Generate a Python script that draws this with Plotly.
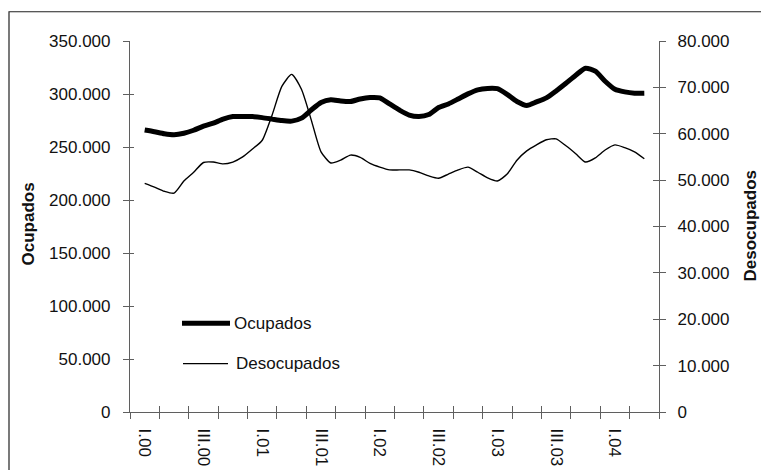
import plotly.graph_objects as go

# Quarter labels (every second quarter is labelled on the axis)
quarters = ["I.00", "II.00", "III.00", "IV.00", "I.01", "II.01", "III.01", "IV.01",
            "I.02", "II.02", "III.02", "IV.02", "I.03", "II.03", "III.03", "IV.03",
            "I.04", "II.04"]
tick_labels = ["I.00", "III.00", "I.01", "III.01", "I.02", "III.02", "I.03", "III.03", "I.04"]

# Monthly (moving-quarter) values, first point = I.00, last point = II.04
ocupados = [266000, 264400, 262500, 261600, 263000, 265800, 269600, 272500, 276300, 278700,
            278700, 278700, 277700, 276300, 274900, 274400, 277200, 284900, 292000, 294600,
            293400, 292900, 295300, 296700, 296300, 290600, 284900, 280100, 278700, 280600,
            287200, 290600, 295300, 300100, 303900, 305300, 305000, 299600, 292900, 289100,
            292500, 296300, 302900, 310100, 317700, 324300, 321500, 312000, 304400, 302000,
            300800, 300800]
desocupados = [49300, 48500, 47600, 47200, 49800, 51700, 53800, 53900, 53500, 53900,
               55000, 56700, 58600, 64000, 70200, 72800, 69600, 63000, 56100, 53700,
               54300, 55400, 54900, 53600, 52800, 52200, 52200, 52200, 51700, 50900,
               50400, 51300, 52200, 52800, 51700, 50500, 49800, 51300, 54300, 56300,
               57600, 58700, 58900, 57400, 55700, 53900, 54800, 56500, 57600, 57000,
               56100, 54600]

n_q = len(quarters)
x_month = [i / 3 for i in range(len(ocupados))]
label_pos = [quarters.index(t) for t in tick_labels]
boundaries = [i - 0.5 for i in range(n_q + 1)]
xr = [-0.5, n_q - 0.5]
yr_left = [0, 350000]
yr_right = [0, 80000]

FONT = "Liberation Sans, Arial, sans-serif"
AX = "#5f5f5f"
TXT = "#111111"

# target geometry (pixels of the 761x470 picture)
W, H = 761, 470
L, T, PW, PH = 130, 40, 529, 368
# the browser viewport is a little taller than the picture; draw at that height
HV = 478
SY = HV / H


def px(x):
    return (x - L) / PW


def py(y):
    return (T + PH - y) / PH


fig = go.Figure()
fig.add_trace(go.Scatter(x=x_month, y=ocupados, mode="lines", name="Ocupados",
                         line=dict(color="#000000", width=5, shape="spline", smoothing=0.6),
                         xaxis="x", yaxis="y"))
fig.add_trace(go.Scatter(x=x_month, y=desocupados, mode="lines", name="Desocupados",
                         line=dict(color="#000000", width=1.4, shape="spline", smoothing=0.6),
                         xaxis="x", yaxis="y2"))
# helper traces so that the tick-only overlay axes are drawn
fig.add_trace(go.Scatter(x=[None], y=[None], xaxis="x2", yaxis="y3", showlegend=False, hoverinfo="skip"))
fig.add_trace(go.Scatter(x=[None], y=[None], xaxis="x3", yaxis="y4", showlegend=False, hoverinfo="skip"))

fig.update_layout(
    width=W, height=HV,
    margin=dict(l=L, r=W - L - PW, t=T * SY, b=(H - T - PH) * SY),
    paper_bgcolor="white", plot_bgcolor="white",
    showlegend=False,
    separators=",.",
    font=dict(family=FONT, size=17, color=TXT),
    xaxis=dict(range=xr, tickmode="array", tickvals=label_pos, ticktext=tick_labels,
               tickangle=90, ticks="", showline=True, linecolor=AX, linewidth=1.2,
               showgrid=False, zeroline=False, ticklabelstandoff=12,
               tickfont=dict(family=FONT, size=17, color=TXT), fixedrange=True),
    xaxis2=dict(range=xr, overlaying="x", anchor="y", tickmode="array", tickvals=boundaries,
                ticks="outside", ticklen=6, tickcolor=AX, tickwidth=1.2,
                showticklabels=False, showline=False, showgrid=False, zeroline=False),
    xaxis3=dict(range=xr, overlaying="x", anchor="y", tickmode="array", tickvals=boundaries,
                ticks="inside", ticklen=6, tickcolor=AX, tickwidth=1.2,
                showticklabels=False, showline=False, showgrid=False, zeroline=False),
    yaxis=dict(range=yr_left, dtick=50000, tick0=0, tickformat=",d", ticks="outside",
               ticklen=6, tickcolor=AX, tickwidth=1.2, showline=True, linecolor=AX,
               linewidth=1.2, showgrid=False, zeroline=False, ticklabelstandoff=9,
               tickfont=dict(family=FONT, size=17, color=TXT)),
    yaxis2=dict(range=yr_right, dtick=10000, tick0=0, tickformat=",d", overlaying="y",
                side="right", anchor="x", ticks="outside", ticklen=6, tickcolor=AX,
                tickwidth=1.2, showline=True, linecolor=AX, linewidth=1.2, showgrid=False,
                zeroline=False, ticklabelstandoff=8,
                tickfont=dict(family=FONT, size=17, color=TXT)),
    yaxis3=dict(range=yr_left, dtick=50000, tick0=0, overlaying="y", side="left", anchor="x",
                ticks="inside", ticklen=4, tickcolor=AX, tickwidth=1.2,
                showticklabels=False, showline=False, showgrid=False, zeroline=False),
    yaxis4=dict(range=yr_right, dtick=10000, tick0=0, overlaying="y", side="right", anchor="x",
                ticks="inside", ticklen=6, tickcolor=AX, tickwidth=1.2,
                showticklabels=False, showline=False, showgrid=False, zeroline=False),
)

# outer frame (right and bottom edges lie outside the picture)
fig.add_shape(type="rect", xref="paper", yref="paper",
              x0=px(9), x1=px(790), y0=py(490), y1=py(11),
              line=dict(color="#222222", width=1.2), fillcolor="rgba(0,0,0,0)", layer="below")

# axis titles
fig.add_annotation(text="<b>Ocupados</b>", xref="paper", yref="paper",
                   x=px(28), y=py(222), textangle=-90,
                   showarrow=False, xanchor="center", yanchor="middle",
                   font=dict(family=FONT, size=17, color=TXT))
fig.add_annotation(text="<b>Desocupados</b>", xref="paper", yref="paper",
                   x=px(750), y=py(224), textangle=-90,
                   showarrow=False, xanchor="center", yanchor="middle",
                   font=dict(family=FONT, size=17, color=TXT))

# legend (drawn manually)
legend_items = [("Ocupados", 5, 182, 230, 320, 232), ("Desocupados", 1.4, 183, 228, 360, 234)]
for name, w, lx0, lx1, ly, tx in legend_items:
    fig.add_shape(type="line", xref="paper", yref="paper",
                  x0=px(lx0), x1=px(lx1), y0=py(ly), y1=py(ly),
                  line=dict(color="#000000", width=w))
    fig.add_annotation(text=name, xref="paper", yref="paper",
                       x=px(tx), y=py(ly), showarrow=False,
                       xanchor="left", yanchor="middle",
                       font=dict(family=FONT, size=17, color=TXT))

fig.write_html(
    "out.html",
    config={"displayModeBar": False},
    post_script="document.body.style.margin='0px';document.body.style.overflow='hidden';",
)
